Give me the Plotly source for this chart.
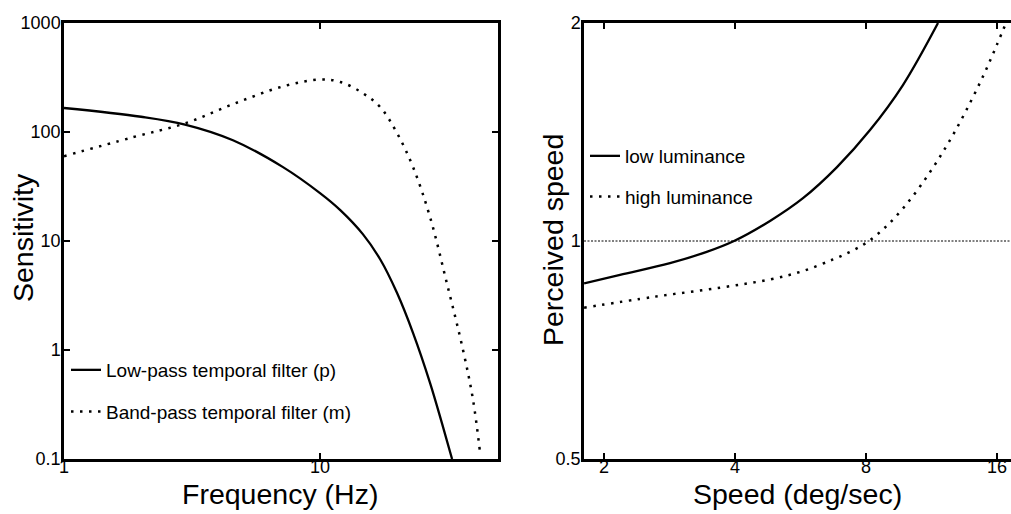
import plotly.graph_objects as go

# ---- temporal filters (left panel) ----
freq_lowpass = [1, 2, 2.97, 4.57, 7.17, 10, 12, 14.7, 17.2, 20, 23.1, 26.9, 30, 32.8]
sens_lowpass = [166, 138, 117, 84, 47.6, 27.5, 19.2, 11.56, 6.76, 3.33, 1.43, 0.50, 0.21, 0.1]

freq_bandpass = [1, 1.86, 2.97, 4.57, 7.17, 10, 12, 14.7, 17.2, 20, 23.1, 26.9, 31.3, 36.2, 39.6, 42.2]
sens_bandpass = [60, 89.6, 120, 180, 262, 303, 288, 227, 169, 97.5, 47.6, 16.6, 4.1, 1.0, 0.35, 0.114]

# ---- perceived speed (right panel) ----
speed_low = [1.8, 2.177, 2.836, 3.444, 3.979, 4.814, 5.732, 6.862, 8.172, 9.727, 11.71]
perc_low = [0.874, 0.898, 0.932, 0.966, 1.0, 1.066, 1.146, 1.265, 1.423, 1.642, 2.0]

speed_high = [1.8, 2.592, 3.695, 4.814, 5.732, 6.718, 7.428, 8.085, 8.893, 9.729,
              10.646, 11.648, 12.676, 13.871, 15.016, 16.0, 16.78]
perc_high = [0.809, 0.837, 0.862, 0.885, 0.909, 0.943, 0.969, 0.998, 1.047, 1.109,
             1.189, 1.288, 1.401, 1.551, 1.711, 1.868, 2.0]

left_xticks = [1, 10]
left_yticks = [0.1, 1, 10, 100, 1000]
left_yticktext = ["0.1", "1", "10", "100", "1000"]
right_xticks = [2, 4, 8, 16]
right_yticks = [0.5, 1, 2]

FONT = "Liberation Sans, Arial, Helvetica, sans-serif"
W, H = 1011, 514
ML, MR, MT, MB = 64, 0, 23, 55
PW = W - ML - MR
PH = H - MT - MB


def paper_x(px):
    return (px - ML) / PW


def paper_y(py):
    return (H - MB - py) / PH


DOTS = "2.5px,6.5px"

fig = go.Figure()

fig.add_trace(go.Scatter(
    x=freq_lowpass, y=sens_lowpass, mode="lines", line_shape="spline",
    line=dict(color="black", width=2.3), xaxis="x", yaxis="y",
    name="Low-pass temporal filter (p)", legend="legend", legendgroup="p"))
fig.add_trace(go.Scatter(
    x=freq_bandpass, y=sens_bandpass, mode="lines", line_shape="spline",
    line=dict(color="black", width=2.5, dash=DOTS), xaxis="x", yaxis="y",
    name="Band-pass temporal filter (m)", legend="legend", legendgroup="m"))

fig.add_trace(go.Scatter(
    x=speed_low, y=perc_low, mode="lines", line_shape="spline",
    line=dict(color="black", width=2.3), xaxis="x2", yaxis="y2",
    name="low luminance", legend="legend2", legendgroup="lo"))
fig.add_trace(go.Scatter(
    x=speed_high, y=perc_high, mode="lines", line_shape="spline",
    line=dict(color="black", width=2.5, dash=DOTS), xaxis="x2", yaxis="y2",
    name="high luminance", legend="legend2", legendgroup="hi"))

# veridical reference at perceived speed = 1
fig.add_shape(type="line", xref="x2 domain", x0=0, x1=1, yref="y2", y0=1, y1=1,
              line=dict(color="black", width=1, dash="2px,1.5px"))

axis_common = dict(
    showline=True, linecolor="black", linewidth=2.5,
    ticks="inside", ticklen=6, tickwidth=2, tickcolor="black",
    showgrid=False, zeroline=False,
    tickfont=dict(family=FONT, size=18, color="black"),
)

fig.update_layout(
    width=W, height=H,
    margin=dict(l=ML, r=MR, t=MT, b=MB),
    paper_bgcolor="white", plot_bgcolor="white",
    font=dict(family=FONT, color="black"),
    xaxis=dict(axis_common, type="log", domain=[0, paper_x(498)],
               range=[0, 1.6953], tickvals=left_xticks, ticktext=["1", "10"],
               mirror="ticks", anchor="y", ticklabelstandoff=-10),
    yaxis=dict(axis_common, type="log", domain=[0, 1], range=[-1, 3],
               tickvals=left_yticks, ticktext=left_yticktext,
               mirror="ticks", anchor="x", ticklabelstandoff=-3),
    xaxis2=dict(axis_common, type="log", domain=[paper_x(584), 1],
                range=[0.25507, 1.2363], tickvals=right_xticks,
                ticktext=[str(v) for v in right_xticks],
                mirror="ticks", anchor="y2", ticklabelstandoff=-10),
    yaxis2=dict(axis_common, type="log", domain=[0, 1],
                range=[-0.30103, 0.30103], tickvals=right_yticks,
                ticktext=["0.5", "1", "2"], ticks="", mirror=False,
                anchor="x2", ticklabelstandoff=-3),
    legend=dict(x=paper_x(66), y=paper_y(351), xanchor="left", yanchor="top",
                bgcolor="rgba(0,0,0,0)", tracegroupgap=14,
                font=dict(family=FONT, size=19, color="black")),
    legend2=dict(x=paper_x(585), y=paper_y(137), xanchor="left", yanchor="top",
                 bgcolor="rgba(0,0,0,0)", tracegroupgap=13,
                 font=dict(family=FONT, size=19, color="black")),
    showlegend=True,
)

title_font = dict(family=FONT, size=28.5, color="black")
annotations = [
    dict(text="Frequency (Hz)", x=paper_x(280), y=paper_y(493.5)),
    dict(text="Speed (deg/sec)", x=paper_x(797.5), y=paper_y(493.5)),
    dict(text="Sensitivity", x=paper_x(23), y=paper_y(238), textangle=-90),
    dict(text="Perceived speed", x=paper_x(553), y=paper_y(240), textangle=-90),
]
for a in annotations:
    fig.add_annotation(xref="paper", yref="paper", showarrow=False,
                       xanchor="center", yanchor="middle", font=title_font, **a)

fig.write_html("out.html")
